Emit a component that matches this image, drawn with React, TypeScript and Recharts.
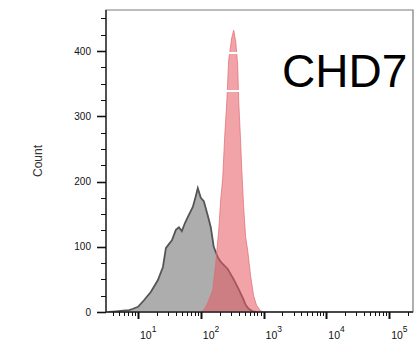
import React from 'react';
import { AreaChart, Area, XAxis, YAxis, ReferenceArea, ReferenceLine } from 'recharts';

// control histogram (grey) — x in log10 units, y = count
const grayLog = [0.54, 0.651, 0.762, 0.857, 0.921, 1.0, 1.095, 1.206, 1.317, 1.397, 1.444, 1.492, 1.54, 1.603, 1.651, 1.698, 1.746, 1.794, 1.873, 1.921, 1.952, 2.0, 2.048, 2.111, 2.159, 2.206, 2.27, 2.317, 2.429, 2.524, 2.587, 2.667, 2.714, 2.762, 2.825, 2.889];
const grayCount = [0, 1, 2, 3, 5, 8, 18, 31, 49, 69, 98, 104, 110, 126, 130, 124, 136, 146, 161, 178, 190, 175, 170, 148, 130, 100, 84, 77, 66, 50, 38, 22, 11, 5, 1, 0];

// CHD7 histogram (red)
const redLog = [2.0, 2.048, 2.111, 2.19, 2.238, 2.286, 2.317, 2.349, 2.381, 2.413, 2.444, 2.492, 2.524, 2.556, 2.587, 2.603, 2.635, 2.651, 2.683, 2.714, 2.746, 2.794, 2.841, 2.889, 2.952, 3.0];
const redCount = [0, 3, 14, 34, 75, 126, 172, 205, 270, 320, 386, 420, 432, 415, 380, 325, 260, 222, 160, 115, 95, 55, 25, 10, 2, 0];

const decades = [1, 2, 3, 4, 5];
const yMajor = [0, 100, 200, 300, 400];
const yMinorStep = 25;

const X_DOMAIN: [number, number] = [0.49, 5.38];
const Y_DOMAIN: [number, number] = [0, 463];

const table = (() => {
  const m = new Map<number, any>();
  grayLog.forEach((x, i) => m.set(x, { ...(m.get(x) || { x }), gray: grayCount[i] }));
  redLog.forEach((x, i) => m.set(x, { ...(m.get(x) || { x }), red: redCount[i] }));
  return Array.from(m.values()).sort((a, b) => a.x - b.x);
})();

// all x tick positions (minor + major), in log units
const xTicks: number[] = [];
for (let d = 0; d <= 5; d++) {
  for (let k = 1; k <= 9; k++) {
    const v = d + Math.log10(k);
    if (v >= X_DOMAIN[0] && v <= X_DOMAIN[1]) xTicks.push(Number(v.toFixed(4)));
  }
}
const yTicks: number[] = [];
for (let v = 0; v <= 450; v += yMinorStep) yTicks.push(v);

const font = "'Liberation Sans', Arial, sans-serif";

const XTick = (props: any) => {
  const { x, y, payload } = props;
  const v = payload.value;
  const major = decades.some((d) => Math.abs(d - v) < 1e-6);
  const px = Math.round(x) + 0.5;
  return (
    <g>
      <line x1={px} y1={y} x2={px} y2={y + (major ? 7 : 4)} stroke="#111" strokeWidth={major ? 2 : 1} />
      {major && (
        <text x={x + 2} y={y + 27} fontSize={10.5} fontFamily={font} fill="#111">
          10
          <tspan dy={-7} fontSize={8.5}>{Math.round(v)}</tspan>
        </text>
      )}
    </g>
  );
};

const YTick = (props: any) => {
  const { x, y, payload } = props;
  const v = payload.value;
  const major = yMajor.includes(v);
  const py = Math.round(y) + 0.5;
  return (
    <g>
      <line x1={x - (major ? 9 : 5)} y1={py} x2={x} y2={py} stroke="#111" strokeWidth={major ? 1.6 : 1} />
      {major && (
        <text x={x - 15} y={y + 3.5} textAnchor="end" fontSize={10} fontFamily={font} fill="#111">
          {v}
        </text>
      )}
    </g>
  );
};

export default function App() {
  return (
    <div style={{ position: 'absolute', left: 0, top: 0, width: 416, height: 340, background: '#fff' }}>
      <AreaChart width={416} height={340} data={table} margin={{ top: 10, right: 3, bottom: 0, left: 0 }}>
        <ReferenceArea x1={X_DOMAIN[0]} x2={X_DOMAIN[1]} y1={Y_DOMAIN[0]} y2={Y_DOMAIN[1]} fill="none" stroke="#7a7a7a" strokeWidth={1.2} />
        <XAxis
          dataKey="x"
          type="number"
          domain={X_DOMAIN}
          ticks={xTicks}
          interval={0}
          allowDataOverflow
          height={28}
          tickSize={0}
          tickMargin={0}
          tickLine={false}
          axisLine={{ stroke: '#222', strokeWidth: 1.5 }}
          tick={<XTick />}
        />
        <YAxis
          type="number"
          domain={Y_DOMAIN}
          ticks={yTicks}
          interval={0}
          allowDataOverflow
          width={106}
          tickSize={0}
          tickMargin={0}
          tickLine={false}
          axisLine={{ stroke: '#333', strokeWidth: 1.5 }}
          tick={<YTick />}
        />
        <Area
          type="linear"
          dataKey="gray"
          connectNulls
          stroke="#555"
          strokeWidth={1.8}
          fill="#adadad"
          fillOpacity={1}
          isAnimationActive={false}
        />
        <Area
          type="linear"
          dataKey="red"
          connectNulls
          stroke="#e06a70"
          strokeOpacity={0.7}
          strokeWidth={1}
          fill="#e8585e"
          fillOpacity={0.55}
          isAnimationActive={false}
        />
        <ReferenceLine segment={[{ x: 2.2, y: 397 }, { x: 5.3, y: 397 }]} stroke="#fff" strokeWidth={2} />
        <ReferenceLine segment={[{ x: 2.2, y: 339 }, { x: 5.3, y: 339 }]} stroke="#fff" strokeWidth={2} />
        <text x={282} y={87} fontSize={46} fontFamily={font} fill="#000">CHD7</text>
        <text x={42} y={161} fontSize={12} fontFamily={font} fill="#333" textAnchor="middle" transform="rotate(-90, 42, 161)">
          Count
        </text>
      </AreaChart>
    </div>
  );
}
